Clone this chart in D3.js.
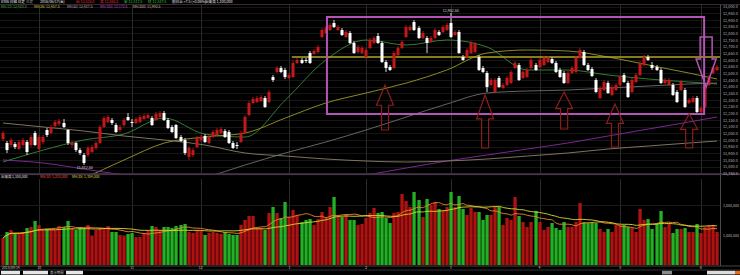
<!DOCTYPE html>
<html><head><meta charset="utf-8">
<script src="https://cdn.jsdelivr.net/npm/d3@7"></script>
<style>html,body{margin:0;padding:0;background:#000;overflow:hidden}svg{display:block}</style>
</head><body>
<svg id="c" width="740" height="275"></svg>
<script>
// ---------- DATA ----------
const open=[12007.5,11977.5,11962.5,11970,11932.5,11962.5,11985,11962.5,12052.5,11932.5,11985,12075,12052.5,12105,12120,12127.5,12075,11962.5,11977.5,11925,11887.5,11887.5,11910,11940,11977.5,12097.5,12135,12150,12112.5,12075,12112.5,12172.5,12135,12127.5,12135,12157.5,12165,12165,12150,12172.5,12202.5,12150,12097.5,12112.5,12022.5,12000,11872.5,11887.5,11947.5,12000,12030,11977.5,12022.5,12037.5,12052.5,12067.5,12060,11977.5,11962.5,11985,12052.5,12187.5,12277.5,12285,12292.5,12315,12285,12472.5,12510,12540,12525,12465,12472.5,12577.5,12600,12600,12652.5,12645,12660,12772.5,12802.5,12825,12877.5,12825,12825,12772.5,12802.5,12727.5,12660,12652.5,12622.5,12690,12727.5,12780,12727.5,12585,12547.5,12540,12637.5,12690,12772.5,12825,12885,12840,12765,12765,12735,12765,12810,12810,12825,12877.5,12787.5,12810,12622.5,12622.5,12652.5,12660,12622.5,12540,12502.5,12412.5,12360,12465,12390,12412.5,12427.5,12540,12562.5,12465,12472.5,12540,12562.5,12547.5,12562.5,12585,12607.5,12577.5,12525,12502.5,12427.5,12502.5,12510,12615,12660,12562.5,12532.5,12450,12315,12375,12427.5,12337.5,12375,12412.5,12487.5,12427.5,12360,12435,12487.5,12562.5,12622.5,12562.5,12547.5,12525,12427.5,12412.5,12412.5,12360,12375,12375,12277.5,12285,12315,12210,12247.5,12412.5,12502.5,12525];
const high=[12067.5,11992.5,12015,11985,12000,12015,12000,12037.5,12067.5,12037.5,12037.5,12090,12112.5,12150,12157.5,12157.5,12082.5,11992.5,11985,11940,11902.5,11955,11962.5,11992.5,12112.5,12180,12187.5,12165,12127.5,12112.5,12165,12202.5,12157.5,12172.5,12187.5,12195,12202.5,12180,12210,12217.5,12217.5,12165,12112.5,12120,12037.5,12015,11955,11940,12030,12037.5,12045,12037.5,12075,12090,12097.5,12082.5,12075,11992.5,11985,12067.5,12187.5,12292.5,12322.5,12330,12337.5,12330,12375,12487.5,12555,12555,12540,12502.5,12592.5,12615,12615,12615,12667.5,12682.5,12712.5,12840,12855,12877.5,12900,12862.5,12840,12825,12817.5,12742.5,12712.5,12705,12690,12765,12780,12802.5,12742.5,12600,12562.5,12667.5,12705,12750,12862.5,12862.5,12900,12855,12817.5,12780,12780,12840,12825,12862.5,12877.5,12952.5,12825,12825,12637.5,12690,12742.5,12735,12637.5,12555,12517.5,12465,12465,12480,12427.5,12480,12525,12592.5,12577.5,12525,12540,12615,12577.5,12615,12630,12630,12622.5,12592.5,12540,12517.5,12517.5,12555,12630,12690,12675,12577.5,12547.5,12465,12405,12450,12442.5,12412.5,12427.5,12487.5,12502.5,12442.5,12465,12502.5,12592.5,12637.5,12637.5,12585,12562.5,12540,12465,12465,12427.5,12375,12450,12390,12315,12330,12330,12255,12412.5,12487.5,12555,12562.5];
const low=[11992.5,11902.5,11947.5,11932.5,11925,11955,11887.5,11947.5,11955,11925,11970,12022.5,12045,12090,12105,12090,11962.5,11947.5,11910,11887.5,11812.5,11872.5,11902.5,11925,11970,12090,12127.5,12112.5,12052.5,12060,12097.5,12142.5,12097.5,12120,12127.5,12150,12157.5,12105,12142.5,12165,12142.5,12082.5,12052.5,12007.5,11985,11887.5,11850,11872.5,11940,11985,11977.5,11970,12015,12030,12045,12015,11970,11932.5,11932.5,11977.5,12045,12180,12270,12277.5,12285,12240,12277.5,12435,12502.5,12502.5,12457.5,12457.5,12465,12570,12570,12577.5,12570,12637.5,12652.5,12765,12795,12817.5,12840,12817.5,12780,12765,12720,12645,12652.5,12645,12607.5,12682.5,12720,12720,12577.5,12510,12517.5,12532.5,12630,12682.5,12765,12817.5,12817.5,12757.5,12757.5,12652.5,12727.5,12757.5,12780,12802.5,12817.5,12765,12780,12645,12592.5,12615,12645,12652.5,12517.5,12502.5,12360,12405,12352.5,12390,12382.5,12405,12420,12532.5,12442.5,12457.5,12465,12532.5,12517.5,12540,12555,12577.5,12570,12502.5,12465,12420,12420,12495,12502.5,12607.5,12555,12517.5,12472.5,12352.5,12307.5,12367.5,12345,12330,12367.5,12405,12427.5,12315,12352.5,12427.5,12480,12555,12592.5,12525,12517.5,12420,12420,12405,12330,12277.5,12367.5,12240,12270,12277.5,12202.5,12202.5,12240,12405,12495,12517.5];
const close=[12052.5,11925,12000,11947.5,11985,12000,11910,12022.5,11962.5,12022.5,12022.5,12037.5,12097.5,12135,12142.5,12097.5,11977.5,11977.5,11925,11902.5,11827.5,11940,11947.5,11977.5,12097.5,12165,12172.5,12127.5,12060,12097.5,12150,12150,12127.5,12157.5,12172.5,12180,12187.5,12112.5,12195,12202.5,12150,12090,12060,12015,11992.5,11902.5,11940,11925,12015,12022.5,11985,12022.5,12060,12075,12082.5,12022.5,11977.5,11940,11955,12052.5,12172.5,12277.5,12307.5,12315,12322.5,12247.5,12360,12450,12540,12510,12472.5,12487.5,12577.5,12600,12577.5,12592.5,12577.5,12667.5,12697.5,12825,12840,12862.5,12847.5,12847.5,12787.5,12810,12727.5,12652.5,12697.5,12690,12675,12750,12765,12727.5,12585,12540,12525,12652.5,12690,12735,12847.5,12847.5,12825,12765,12802.5,12727.5,12765,12825,12787.5,12847.5,12862.5,12772.5,12810,12652.5,12600,12675,12727.5,12720,12525,12510,12397.5,12450,12450,12397.5,12412.5,12465,12510,12577.5,12450,12510,12525,12600,12525,12600,12615,12615,12577.5,12510,12472.5,12427.5,12502.5,12540,12615,12675,12562.5,12525,12480,12360,12390,12435,12352.5,12397.5,12412.5,12472.5,12435,12322.5,12450,12487.5,12577.5,12622.5,12600,12540,12525,12427.5,12450,12450,12337.5,12285,12435,12247.5,12300,12315,12210,12240,12397.5,12472.5,12540,12547.5];
// volume, thousands of shares
const volume=[900,1100,1167,1067,1067,1100,1233,1267,1467,1333,1167,1200,1200,1167,1300,1267,1467,1233,1167,1267,1233,1333,967,1167,1233,1200,1300,1100,1100,1000,967,1033,1067,933,933,1067,1133,1300,1267,1167,1267,1267,1233,1300,1333,1367,1100,1067,1167,1133,1000,1067,1100,1067,1033,1100,1033,1000,1000,1333,1500,1633,1633,1233,1233,1167,1733,1933,1733,1567,2100,1600,1833,1667,1433,1500,1533,1333,1533,1767,1600,1933,2267,1600,1600,1667,1500,1500,1333,1367,1567,1733,1900,1733,1767,1567,1400,1733,1767,2367,2133,1933,2433,2167,1600,2200,2000,2100,1867,1833,1933,2433,1933,2300,1867,1667,1900,1767,1767,1500,1667,1667,1933,1933,1333,1567,1500,2267,1633,1433,1267,1433,1800,1433,1167,1267,1400,1233,1167,1433,1267,1267,1433,2067,1433,1400,1433,1400,1200,1100,1200,1100,1333,1333,1333,1267,1233,1100,1867,1500,1533,1200,1400,1800,1267,1400,1067,1200,1200,1233,1100,1100,1367,1067,1267,1333,1333,1100];
// moving-average lines at these candle indices
const maIdx=[0,10,20,30,40,50,60,70,80,90,100,110,120,130,140,150,160,170,177];
const maGreen=[11835,11925,12000,12045,12165,12045,12022.5,12300,12600,12750,12712.5,12750,12697.5,12525,12525,12487.5,12457.5,12435,12420];
const maOlive=[11550,11610,11715,11850,11977.5,12022.5,12052.5,12165,12277.5,12352.5,12427.5,12525,12652.5,12675,12667.5,12622.5,12562.5,12502.5,12457.5];
const maGray=[11212.5,11287.5,11385,11512.5,11625,11715,11812.5,11902.5,11985,12075,12172.5,12270,12352.5,12367.5,12375,12390,12405,12420,12427.5];
const maPurple=[11850,11827.5,11782.5,11737.5,11700,11677.5,11662.5,11670,11692.5,11737.5,11790,11842.5,11887.5,11932.5,11977.5,12030,12082.5,12135,12172.5];
const maBeige=[12127.5,12097.5,12067.5,12030,12000,11962.5,11902.5,11880,11857.5,11842.5,11835,11842.5,11857.5,11880,11902.5,11932.5,11955,11977.5,11992.5];
const maNames=["MA(13)","MA(26)","MA(52)","MA(100)","MA(200)"];
// month ticks
const monthIdx=[9,32,49,71,90,111,133,153,173];
const monthLabels=["10","11","12","1","2","3","4","5","6"];
const firstDate="2015/09/14";
const priceTicks=d3.range(11750,13001,50);
const volTicks=[1000,2000];
// annotations
const levelPrice=12622.5, levelFrom=71.6;
const box={from:80.3,to:173.8,top:12922.5,bottom:12195};
const upArrows=[{i:94.7,tip:12412.5,tail:12075},{i:119.5,tip:12337.5,tail:11940},{i:139.1,tip:12360,tail:12082.5},{i:151.7,tip:12270,tail:11947.5},{i:170.1,tip:12195,tail:11940}];
const downArrow={i:174.3,tip:12397.5,tail:12772.5};

// ---------- CHART ----------
const N=open.length;
const FONT="'Noto Sans CJK JP','DejaVu Sans',sans-serif";
const svg=d3.select('#c');
svg.append('rect').attr('width',740).attr('height',275).attr('fill','#000');
const plotR=720, mainTop=4.5, mainBot=173.5, volBot=265.5;
const x=d3.scaleBand().domain(d3.range(N)).range([1,1+4.034*N]);
const xc=i=>x(i)+x.bandwidth()/2;
const xi=d3.scaleLinear().domain([0,N-1]).range([xc(0),xc(N-1)]);
const y=d3.scaleLinear().domain([11700,13050]).range([180,0]);
const yv=d3.scaleLinear().domain([0,2000]).range([265,205]);

const defs=svg.append('defs');
defs.append('clipPath').attr('id','mainClip').append('rect').attr('x',0).attr('y',mainTop).attr('width',plotR).attr('height',mainBot-mainTop);
defs.append('clipPath').attr('id','volClip').append('rect').attr('x',0).attr('y',179).attr('width',plotR).attr('height',volBot-179);

// grids
const g=svg.append('g');
g.selectAll('.hg').data(priceTicks).join('line').attr('x1',0).attr('x2',plotR)
 .attr('y1',d=>Math.round(y(d))+0.5).attr('y2',d=>Math.round(y(d))+0.5).attr('stroke','#161616');
g.selectAll('.vg').data(monthIdx).join('line').attr('x1',d=>Math.round(xc(d))+0.5).attr('x2',d=>Math.round(xc(d))+0.5)
 .attr('y1',mainTop).attr('y2',mainBot).attr('stroke','#2a2a2a');
g.selectAll('.vg2').data(monthIdx).join('line').attr('x1',d=>Math.round(xc(d))+0.5).attr('x2',d=>Math.round(xc(d))+0.5)
 .attr('y1',179).attr('y2',volBot).attr('stroke','#2a2a2a');
g.selectAll('.vh').data(volTicks).join('line').attr('x1',0).attr('x2',plotR)
 .attr('y1',d=>Math.round(yv(d))+0.5).attr('y2',d=>Math.round(yv(d))+0.5).attr('stroke','#1a1a1a');

// frame lines
svg.append('line').attr('x1',0).attr('x2',740).attr('y1',mainTop).attr('y2',mainTop).attr('stroke','#3a2636');
svg.append('rect').attr('x',0).attr('y',173.3).attr('width',740).attr('height',1.8).attr('fill','#45344a');
svg.append('line').attr('x1',720.5).attr('x2',720.5).attr('y1',mainTop).attr('y2',volBot+0.5).attr('stroke','#4a4a4a');
svg.append('line').attr('x1',0).attr('x2',740).attr('y1',266).attr('y2',266).attr('stroke','#444');
svg.append('line').attr('x1',0).attr('x2',740).attr('y1',270).attr('y2',270).attr('stroke','#333');

// MA lines (main)
const mainG=svg.append('g').attr('clip-path','url(#mainClip)');
const maLine=d3.line().x((d,k)=>xi(maIdx[k])).y(d=>y(d)).curve(d3.curveMonotoneX);
const maSeries=[[maGreen,'#3a8a3a'],[maOlive,'#9a9a28'],[maGray,'#6e6e6e'],[maPurple,'#8a2aa6'],[maBeige,'#8c806a']];
maSeries.forEach(([s,c])=>mainG.append('path').attr('d',maLine(s)).attr('fill','none').attr('stroke',c).attr('stroke-width',0.9));

// horizontal level
mainG.append('line').attr('x1',xi(levelFrom)).attr('x2',plotR).attr('y1',y(levelPrice)).attr('y2',y(levelPrice))
 .attr('stroke','#b4a420').attr('stroke-width',1.5);

// candles
const up=i=>close[i]>=open[i];
const cg=mainG.append('g');
cg.selectAll('.w').data(d3.range(N)).join('rect')
 .attr('x',i=>Math.round(xc(i))-0.5).attr('width',1)
 .attr('y',i=>y(high[i])).attr('height',i=>y(low[i])-y(high[i]))
 .attr('fill',i=>up(i)?'#b01414':'#d8d8d8');
cg.selectAll('.b').data(d3.range(N)).join('rect')
 .attr('x',i=>Math.round(xc(i))-1.5).attr('width',3)
 .attr('y',i=>y(Math.max(open[i],close[i])))
 .attr('height',i=>Math.max(1,Math.abs(y(open[i])-y(close[i]))))
 .attr('fill',i=>up(i)?'#c41818':'#ffffff');

// box + arrows
mainG.append('rect').attr('x',xi(box.from)).attr('y',y(box.top)).attr('width',xi(box.to)-xi(box.from))
 .attr('height',y(box.bottom)-y(box.top)).attr('fill','none').attr('stroke','#b454b4').attr('stroke-width',2);
function arrowPath(cx,y0,y1,headW,shaftW,frac){
  const yh=y0+(y1-y0)*frac;
  return `M${cx},${y0}L${cx+headW/2},${yh}L${cx+shaftW/2},${yh}L${cx+shaftW/2},${y1}L${cx-shaftW/2},${y1}L${cx-shaftW/2},${yh}L${cx-headW/2},${yh}Z`;
}
upArrows.forEach(a=>mainG.append('path').attr('d',arrowPath(xi(a.i),y(a.tip),y(a.tail),17,7,0.45))
 .attr('fill','none').attr('stroke','#8e1c1c').attr('stroke-width',1.2));
mainG.append('path').attr('d',arrowPath(xi(downArrow.i),y(downArrow.tip),y(downArrow.tail),20,12,0.56))
 .attr('fill','none').attr('stroke','#b454b4').attr('stroke-width',1.5);

// high/low labels
const hiI=d3.maxIndex(high), loI=d3.minIndex(low);
const fmt2=d3.format(',.2f');
svg.append('text').attr('x',xc(hiI)).attr('y',y(high[hiI])-1).attr('text-anchor','middle')
 .attr('font-size',3.6).attr('font-family',FONT).attr('fill','#ddd').text(fmt2(high[hiI]));
svg.append('text').attr('x',xc(loI)+1).attr('y',y(low[loI])+4).attr('text-anchor','middle')
 .attr('font-size',3.6).attr('font-family',FONT).attr('fill','#ddd').text(fmt2(low[loI]));

// price axis
const ax=svg.append('g').attr('transform','translate(722,0)')
 .call(d3.axisRight(y).tickValues(priceTicks).tickSize(0).tickPadding(1).tickFormat(d3.format(',.1f')));
ax.select('.domain').remove();
ax.selectAll('text').attr('font-size',3.8).attr('font-family',FONT).attr('fill','#b8b8b8');

// volume
const vg=svg.append('g').attr('clip-path','url(#volClip)');
vg.selectAll('.v').data(d3.range(N)).join('rect')
 .attr('x',i=>Math.round(xc(i))-1.6).attr('width',3.3)
 .attr('y',i=>yv(volume[i])).attr('height',i=>yv(0)-yv(volume[i]))
 .attr('fill',i=>up(i)?'#b01212':'#24b024');
function ma(arr,n){return arr.map((d,i)=>d3.mean(arr.slice(Math.max(0,i-n+1),i+1)));}
const vma1=ma(volume,10), vma2=ma(volume,25);
const vLine=d3.line().x((d,i)=>xc(i)).y(d=>yv(d)).curve(d3.curveMonotoneX);
vg.append('path').attr('d',vLine(vma1)).attr('fill','none').attr('stroke','#f08a30').attr('stroke-width',0.9);
vg.append('path').attr('d',vLine(vma2)).attr('fill','none').attr('stroke','#dada30').attr('stroke-width',0.9);
const axv=svg.append('g').attr('transform','translate(722,0)')
 .call(d3.axisRight(yv).tickValues(volTicks).tickSize(0).tickPadding(1).tickFormat(d=>d3.format(',')(d*1000)));
axv.select('.domain').remove();
axv.selectAll('text').attr('font-size',3.6).attr('font-family',FONT).attr('fill','#b8b8b8');

// date axis
const dg=svg.append('g');
dg.append('text').attr('x',2).attr('y',269.2).attr('font-size',3.4).attr('font-family',FONT).attr('fill','#c8c8c8').text(firstDate);
dg.selectAll('.m').data(monthIdx).join('text').attr('x',i=>xc(i)).attr('y',269.2).attr('text-anchor','middle')
 .attr('font-size',3.4).attr('font-family',FONT).attr('fill','#c8c8c8').text((d,k)=>monthLabels[k]);

// header rows
const L=N-1, fmt1=d3.format(',.1f');
const chg=close[L]-close[L-1];
const head1=[[1,'8306 日経 日足','#e8e8e8'],[26,'日足','#9a9a9a'],[40,'2016/06/17(金)','#e8e8e8'],
 [76,'始 '+fmt1(open[L]),'#e03030'],[100,'高 '+fmt1(high[L]),'#e03030'],[124,'安 '+fmt1(low[L]),'#30c030'],
 [148,'終 '+fmt1(close[L]),'#30c030'],[172,'前日比 '+d3.format('+.1f')(chg)+' ('+d3.format('+.2%')(chg/close[L-1])+')','#e8e8e8'],
 [205,'出来高 '+d3.format(',')(volume[L]*1000),'#e8e8e8']];
svg.selectAll('.h1').data(head1).join('text').attr('x',d=>d[0]).attr('y',3.4).attr('font-size',3.6)
 .attr('font-family',FONT).attr('fill',d=>d[2]).text(d=>d[1]);
const maCols=['#3ab03a','#c8c830','#b0b0b0','#c040d0','#c8b8a0'];
const maLast=[maGreen,maOlive,maGray,maPurple,maBeige].map(s=>s[s.length-1]);
svg.selectAll('.h2').data(maNames).join('text').attr('x',(d,k)=>1+k*33).attr('y',8.2).attr('font-size',3.5)
 .attr('font-family',FONT).attr('fill',(d,k)=>maCols[k]).text((d,k)=>d+' '+fmt1(maLast[k]));
const vhead=[[1,'出来高','#e0e0e0'],[12,d3.format(',')(volume[L]*1000),'#e0e0e0'],
 [40,'MA(10) '+d3.format(',.0f')(vma1[L]*1000),'#f05030'],[72,'MA(25) '+d3.format(',.0f')(vma2[L]*1000),'#dada30']];
svg.selectAll('.vh2').data(vhead).join('text').attr('x',d=>d[0]).attr('y',177.8).attr('font-size',3.5)
 .attr('font-family',FONT).attr('fill',d=>d[2]).text(d=>d[1]);

// bottom toolbar
const tb=[[1,19,'#e6e6e6'],[23,25,'#e6e6e6'],[66,17,'#e6e6e6'],[662,10,'#8a8a8a'],[707,28,'#dcdcdc'],[735,5,'#e07020']];
svg.selectAll('.tb').data(tb).join('rect').attr('x',d=>d[0]).attr('y',270.8).attr('width',d=>d[1]).attr('height',3.6).attr('fill',d=>d[2]);
svg.append('text').attr('x',50).attr('y',274).attr('font-size',3.4).attr('font-family',FONT).attr('fill','#ccc').text('表示期間');
</script>
</body></html>
